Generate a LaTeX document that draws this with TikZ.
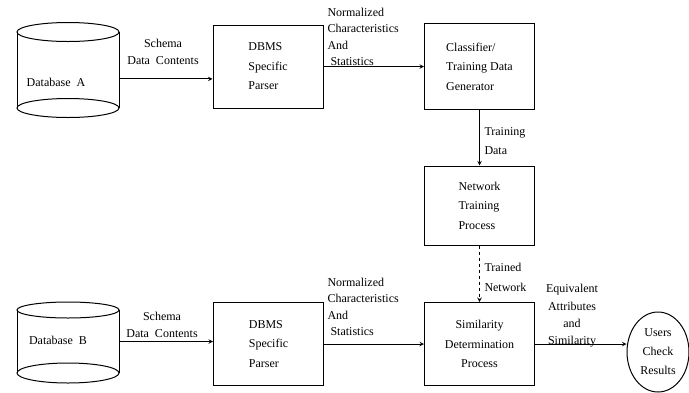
\documentclass[tikz,border=0pt]{standalone}
\usepackage{fontspec}
\setmainfont{Liberation Serif}
\usetikzlibrary{shapes}

\tikzset{
  box/.style={draw, minimum width=110pt, minimum height=83pt, align=left, font=\fontsize{12}{19.5}\selectfont},
  dbase/.style={minimum width=102pt, minimum height=76pt, inner sep=0pt, outer sep=0pt},
  lbl/.style={align=left, inner sep=0pt, font=\fontsize{12}{16.5}\selectfont},
}

\begin{document}
\begin{tikzpicture}[x=1pt, y=-1pt, line width=1pt, >=stealth]
\useasboundingbox (0,0) rectangle (689,392);

%Database A
\node[dbase] (dbA) at (68,70) {};
\draw (dbA.north west) -- (dbA.south west) (dbA.north east) -- (dbA.south east);
\draw (dbA.north) ellipse (51pt and 9.5pt) (dbA.south) ellipse (51pt and 9.5pt);
\node[lbl] (dbAtxt) at (56,82) {Database\ \ A};

%Database B
\node[dbase, minimum height=63pt] (dbB) at (68,341.5) {};
\draw (dbB.north west) -- (dbB.south west) (dbB.north east) -- (dbB.south east);
\draw (dbB.north) ellipse (51pt and 8pt) (dbB.south) ellipse (51pt and 10pt);
\node[lbl] (dbBtxt) at (58,340) {Database\ \ B};

%Parsers
\node[box] (dbmsA) at (268,66.5) {DBMS\\Specific\\Parser};
\node[box] (dbmsB) at (268.5,344) {DBMS\\Specific\\Parser};

%Right column
\node[box, minimum height=86pt] (cls) at (479.5,66.5) {Classifier/\\Training Data\\Generator};
\node[box, minimum height=79pt] (net) at (479.5,205.5) {Network\\Training\\Process};
\node[box, align=center] (sim) at (479.5,344) {Similarity\\Determination\\Process};

%Users
\node[ellipse, draw, minimum width=62pt, minimum height=80pt, inner sep=0pt, align=center, font=\fontsize{12}{19}\selectfont] (usr) at (658,352) {Users\\Check\\Results};

% Labels
\node[lbl, align=center] (schA) at (163,52) {Schema\\Data\ \ Contents};
\node[lbl, align=center] (schB) at (162,325) {Schema\\Data\ \ Contents};
\node[lbl, anchor=west] (normA) at (327,37) {Normalized\\Characteristics\\And\\\ Statistics};
\node[lbl, anchor=west] (normB) at (327,307) {Normalized\\Characteristics\\And\\\ Statistics};
\node[lbl, anchor=west, font=\fontsize{12}{19}\selectfont] (trData) at (484,141) {Training\\Data};
\node[lbl, anchor=west, font=\fontsize{12}{20}\selectfont] (trNet) at (484,277) {Trained\\Network};
\node[lbl, align=center, font=\fontsize{12}{17.3}\selectfont] (equiv) at (572,316) {Equivalent\\Attributes\\and\\Similarity};

// Connectors
\draw[->] (dbA.-10) -- (dbA.-10 -| dbmsA.west);
\draw[->] (dbB.east) -- (dbB.east -| dbmsB.west);
\foreach \from/\to in {dbmsA/cls, cls/net, dbmsB/sim}
  \draw[->] (\from) -- (\to);
\draw[->, dashed] (net) -- (sim);
\draw[->] (sim.east) -- (sim.east -| usr.west);

\end{tikzpicture}
\end{document}
